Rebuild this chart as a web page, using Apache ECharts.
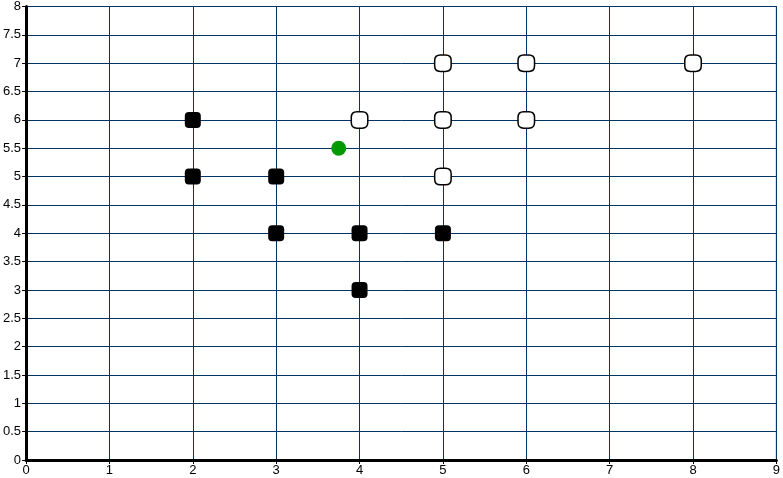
<!DOCTYPE html>
<html>
<head>
<meta charset="utf-8">
<script src="https://cdn.jsdelivr.net/npm/echarts@6/dist/echarts.min.js"></script>
<style>html,body{margin:0;padding:0;background:#fff}#c{width:783px;height:478px}</style>
</head>
<body>
<div id="c"></div>
<script>
var blackPoints = [[2,6],[2,5],[3,5],[3,4],[4,4],[4,3],[5,4]];
var whitePoints = [[4,6],[5,7],[5,6],[5,5],[6,7],[6,6],[8,7]];
var greenPoints = [[3.75,5.5]];
var xMin = 0, xMax = 9, xStep = 1;
var yMin = 0, yMax = 8, yStep = 0.5;

var blackSym = 'path://M4,0H12Q16,0 16,4V12Q16,16 12,16H4Q0,16 0,12V4Q0,0 4,0Z';
var whiteSym = 'path://M5.5,0H10.5Q16,0 16,5.5V10.5Q16,16 10.5,16H5.5Q0,16 0,10.5V5.5Q0,0 5.5,0Z';

var chart = echarts.init(document.getElementById('c'), null, {renderer:'canvas'});
var gridColor = '#003366';
chart.setOption({
  animation: false,
  grid: {left:26, right:3, top:5, bottom:18, show:true, borderColor:'#000', borderWidth:1, backgroundColor:'transparent'},
  xAxis: {
    type:'value', min:xMin, max:xMax, interval:xStep,
    axisLine:{show:true, onZero:false, lineStyle:{color:'#000', width:3}},
    axisTick:{show:true, length:4, lineStyle:{color:'#000', width:1}},
    axisLabel:{color:'#000', fontFamily:'Liberation Sans, Arial, sans-serif', fontSize:13, margin:4},
    splitLine:{show:true, lineStyle:{color:gridColor, width:1}}
  },
  yAxis: {
    type:'value', min:yMin, max:yMax, interval:yStep,
    axisLine:{show:true, onZero:false, lineStyle:{color:'#000', width:3}},
    axisTick:{show:true, length:4, lineStyle:{color:'#000', width:1}},
    axisLabel:{color:'#000', fontFamily:'Liberation Sans, Arial, sans-serif', fontSize:13, margin:5},
    splitLine:{show:true, lineStyle:{color:gridColor, width:1}}
  },
  series: [
    {type:'scatter', data:blackPoints, symbol:blackSym, symbolSize:16,
     itemStyle:{color:'#000', borderColor:'#000', borderWidth:0, opacity:1}},
    {type:'scatter', data:whitePoints, symbol:whiteSym, symbolSize:16.5,
     itemStyle:{color:'#fff', borderColor:'#000', borderWidth:1.5, opacity:1}},
    {type:'scatter', data:greenPoints, symbol:'circle', symbolSize:15,
     itemStyle:{color:'#009900', opacity:1}}
  ]
});
</script>
</body>
</html>
